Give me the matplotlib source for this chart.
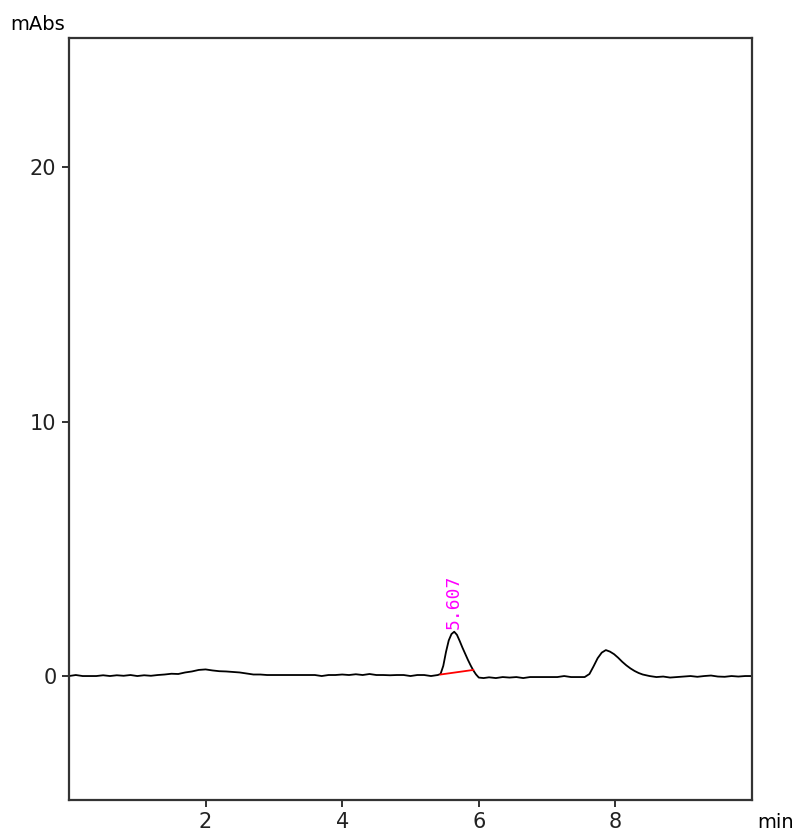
import numpy as np
import matplotlib.pyplot as plt

# Detector trace (time in min, absorbance in mAbs)
time_min = [
    0.00, 0.10, 0.20, 0.30, 0.40, 0.50, 0.60, 0.70, 0.80, 0.90,
    1.00, 1.10, 1.20, 1.30, 1.40, 1.50, 1.60, 1.70, 1.80, 1.90,
    2.00, 2.10, 2.20, 2.30, 2.40, 2.50, 2.60, 2.70, 2.80, 2.90,
    3.00, 3.20, 3.40, 3.60, 3.70, 3.80, 3.90, 4.00, 4.10, 4.20,
    4.30, 4.40, 4.50, 4.60, 4.70, 4.80, 4.90, 5.00, 5.10, 5.20,
    5.30, 5.40, 5.44, 5.48, 5.52, 5.56, 5.60, 5.64, 5.68, 5.72,
    5.76, 5.80, 5.84, 5.88, 5.92, 5.96, 6.00, 6.07, 6.15, 6.25,
    6.35, 6.45, 6.55, 6.65, 6.75, 6.85, 6.95, 7.05, 7.15, 7.25,
    7.35, 7.45, 7.55, 7.62, 7.68, 7.74, 7.80, 7.86, 7.92, 7.98,
    8.04, 8.10, 8.16, 8.22, 8.28, 8.34, 8.40, 8.50, 8.60, 8.70,
    8.80, 8.90, 9.00, 9.10, 9.20, 9.30, 9.40, 9.50, 9.60, 9.70,
    9.80, 9.90, 9.98,
]
signal_mabs = [
    0.00, 0.04, 0.00, 0.00, 0.00, 0.03, 0.00, 0.03, 0.01, 0.04,
    0.00, 0.03, 0.01, 0.04, 0.06, 0.09, 0.08, 0.14, 0.18, 0.24,
    0.26, 0.22, 0.19, 0.18, 0.16, 0.14, 0.10, 0.06, 0.06, 0.04,
    0.04, 0.04, 0.04, 0.04, 0.00, 0.04, 0.04, 0.06, 0.04, 0.07,
    0.04, 0.08, 0.04, 0.04, 0.03, 0.04, 0.04, 0.00, 0.04, 0.04,
    0.00, 0.04, 0.08, 0.40, 0.95, 1.40, 1.65, 1.74, 1.62, 1.38,
    1.12, 0.88, 0.64, 0.42, 0.22, 0.06, -0.06, -0.08, -0.05, -0.08,
    -0.04, -0.06, -0.04, -0.08, -0.04, -0.04, -0.04, -0.04, -0.04, 0.00,
    -0.04, -0.04, -0.04, 0.08, 0.38, 0.70, 0.92, 1.02, 0.96, 0.86,
    0.72, 0.56, 0.42, 0.30, 0.20, 0.12, 0.06, 0.00, -0.04, -0.02,
    -0.06, -0.04, -0.02, 0.00, -0.03, 0.00, 0.02, -0.02, -0.03, 0.00,
    -0.02, 0.00, 0.00,
]

# Integration baseline under the labelled peak
base_t = [5.44, 5.92]
base_y = [0.06, 0.24]
peak_rt = 5.607
peak_top = 1.74

fig = plt.figure(figsize=(7.92, 8.36), dpi=100)
ax = fig.add_axes([0.0871, 0.0431, 0.8624, 0.9114])

ax.plot(time_min, signal_mabs, color="black", lw=1.3)
ax.plot(base_t, base_y, color="#ff0000", lw=1.3)
ax.text(peak_rt + 0.02, peak_top + 0.1, f"{peak_rt:.3f}", rotation=90,
        ha="center", va="bottom", color="#ff00ff",
        family="DejaVu Sans Mono", fontsize=13)

ax.set_xlim(0, 10)
ax.set_ylim(-4.87, 25.07)
ax.set_xticks([2, 4, 6, 8])
ax.set_yticks([0, 10, 20])
ax.tick_params(direction="out", length=5, width=1.3, labelsize=15,
               pad=4, colors="#222222")
for side in ax.spines.values():
    side.set_linewidth(1.6)
    side.set_color("#333333")

fig.text(10 / 792, 1 - 25 / 836, "mAbs", fontsize=14, va="center", ha="left")
fig.text(757 / 792, 1 - 823 / 836, "min", fontsize=14, va="center", ha="left")

fig.savefig("out.png", dpi=100)
